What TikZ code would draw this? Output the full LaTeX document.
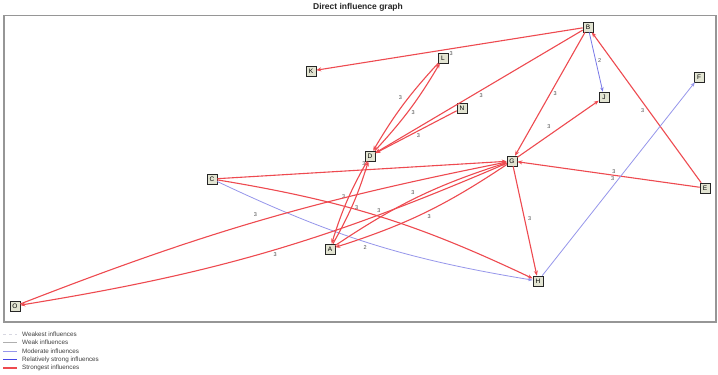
\documentclass[tikz,border=0pt]{standalone}
\usepackage{fontspec}
\setmainfont{Liberation Sans}
\usetikzlibrary{arrows.meta,shadows}
\definecolor{strongred}{RGB}{238,74,80}
\definecolor{relblue}{RGB}{70,70,230}
\definecolor{modblue}{RGB}{150,150,235}
\definecolor{modblueb}{RGB}{120,120,232}
\definecolor{weakgray}{RGB}{175,175,175}
\definecolor{weakestgray}{RGB}{215,215,225}
\definecolor{nodefill}{RGB}{226,228,210}
\definecolor{framegray}{RGB}{150,150,150}
\tikzset{
  nd/.style={draw=black!85, fill=nodefill, minimum size=10pt, inner sep=0pt,
    line width=0.6pt, font=\fontsize{6.5}{7}\selectfont,
    drop shadow={shadow xshift=1.3pt, shadow yshift=-1.3pt, fill=black!50, opacity=1}},
  lbl/.style={font=\fontsize{5.5}{6}\selectfont, text=black!70, inner sep=1pt},
  rs/.style={draw=strongred, line width=1.1pt, -{Stealth[length=5pt,width=4pt]}},
  bl/.style={draw=modblue, line width=0.8pt, -{Stealth[length=4.5pt,width=3.5pt]}},
  blb/.style={draw=modblueb, line width=0.8pt, -{Stealth[length=4.5pt,width=3.5pt]}},
  legtext/.style={anchor=west, font=\fontsize{6.3}{7}\selectfont, text=black!75, inner sep=0pt},
}
\begin{document}
\begin{tikzpicture}[x=1pt,y=-1pt]
\useasboundingbox (0,0) rectangle (718,375);
\fill[white] (0,0) rectangle (718,375);
% frame and title
\draw[framegray, line width=1.2pt] (4,15.5) rectangle (716,322);
\node[font=\bfseries\fontsize{8.5}{9}\selectfont, text=black!85] (title) at (358,7) {Direct influence graph};
% nodes
\node[nd] (B) at (588,27) {B};
\node[nd] (K) at (311,71) {K};
\node[nd, label={[lbl, yshift=4pt]right:3}] (L) at (443,58) {L};
\node[nd] (N) at (462,108) {N};
\node[nd] (J) at (604,97) {J};
\node[nd] (F) at (699,77) {F};
\node[nd, label={[lbl, xshift=2pt, yshift=1pt]below left:3}] (D) at (370,156) {D};
\node[nd] (G) at (512,161) {G};
\node[nd] (C) at (212,179) {C};
\node[nd] (E) at (705,188) {E};
\node[nd] (A) at (330,249) {A};
\node[nd] (H) at (538,281) {H};
\node[nd] (O) at (15,306) {O};
% edges
\draw[rs] (B) -- (K);
\draw[blb] (B) -- node[lbl, pos=.48, right=1pt] {2} (J);
\draw[rs] (B) -- node[lbl, pos=.49, below=2pt] {3} (D);
\draw[rs] (B) -- node[lbl, pos=.5, right=2pt] {3} (G);
\draw[rs] (E) -- node[lbl, pos=.48, left=3pt] {3} (B);
\draw[rs] (D) to[bend right=6] node[lbl, pos=.45, right=3pt] {3} (L);
\draw[rs] (L) to[bend right=6] node[lbl, pos=.41, left=5pt] {3} (D);
\draw[rs] (N) -- node[lbl, pos=.47, below=1pt] {3} (D);
\draw[rs] (G) -- node[lbl, pos=.45, above left=2pt] {3} (J);
\draw[rs] (E) -- node[lbl, pos=.47, above=0pt] {3} (G);
\draw[bl] (H) -- node[lbl, pos=.5, left=3pt] {3} (F);
\draw[rs] (G) -- node[lbl, pos=.48, right=2pt] {3} (H);
\draw[rs] (C) -- (G);
\draw[rs] (C) to[bend left=8] node[lbl, pos=.5, above=2pt] {3} (H);
\draw[bl] (C) to[bend right=8] node[lbl, pos=.48, below=2pt] {2} (H);
\draw[rs] (A) to[bend right=6] node[lbl, pos=.45, right=2pt] {3} (D);
\draw[rs] (D) to[bend right=6] node[lbl, pos=.44, left=2pt] {3} (A);
\draw[rs] (A) to[bend left=8] node[lbl, pos=.47, above=3pt] {3} (G);
\draw[rs] (G) to[bend left=8] node[lbl, pos=.47, below=3pt] {3} (A);
\draw[rs] (O) to[bend left=5] node[lbl, pos=.49, above=4pt] {3} (G);
\draw[rs] (G) to[bend left=7] node[lbl, pos=.485, below=1pt] {3} (O);
% legend
\coordinate (w1) at (3,334); \coordinate (w2) at (17,334);
\draw[weakestgray, line width=0.8pt, dashed] (w1) -- (w2);
\node[legtext] (t1) at (22,334) {Weakest influences};
\coordinate (k1) at (3,342.5); \coordinate (k2) at (17,342.5);
\draw[weakgray, line width=0.9pt] (k1) -- (k2);
\node[legtext] (t2) at (22,342.5) {Weak influences};
\coordinate (m1) at (3,351); \coordinate (m2) at (17,351);
\draw[modblue, line width=0.9pt] (m1) -- (m2);
\node[legtext] (t3) at (22,351) {Moderate influences};
\coordinate (r1) at (3,359.5); \coordinate (r2) at (17,359.5);
\draw[relblue, line width=1pt] (r1) -- (r2);
\node[legtext] (t4) at (22,359.5) {Relatively strong influences};
\coordinate (s1) at (3,368); \coordinate (s2) at (17,368);
\draw[strongred, line width=1.1pt] (s1) -- (s2);
\node[legtext] (t5) at (22,368) {Strongest influences};
\end{tikzpicture}
\end{document}
